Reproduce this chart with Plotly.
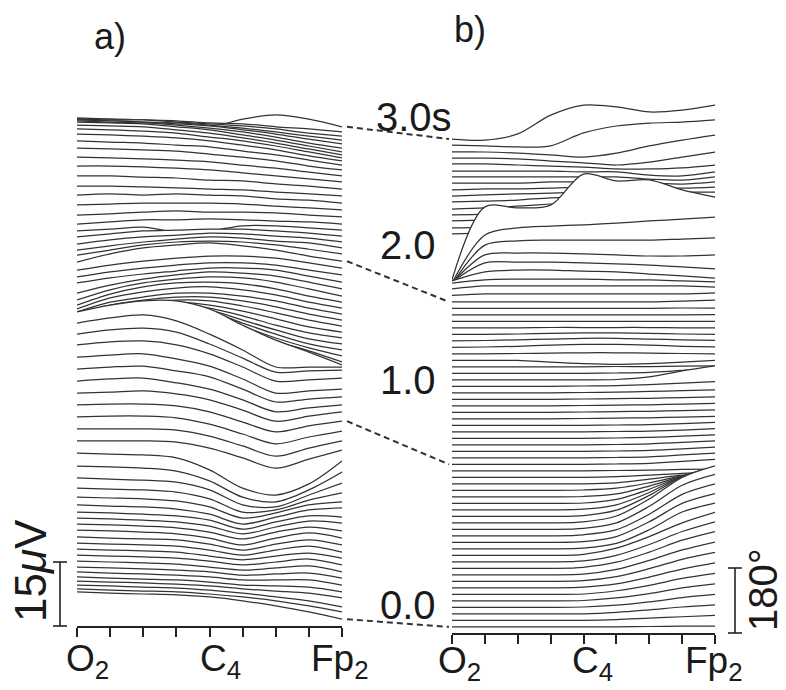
import plotly.graph_objects as go

# ---------------- data ----------------
electrode_pos = [0, 1, 2, 3, 4, 5, 6, 7, 8]
electrode_labels = {0: "O<sub>2</sub>", 4: "C<sub>4</sub>", 8: "Fp<sub>2</sub>"}

times = [0.00, 0.04, 0.08, 0.12, 0.16, 0.20, 0.24, 0.28, 0.32, 0.36, 0.40, 0.44, 0.48, 0.52,
         0.56, 0.60, 0.64, 0.68, 0.72, 0.76, 0.80, 0.84, 0.88, 0.92, 0.96, 1.00, 1.04, 1.08,
         1.12, 1.16, 1.20, 1.24, 1.28, 1.32, 1.36, 1.40, 1.44, 1.48, 1.52, 1.56, 1.60, 1.64,
         1.68, 1.72, 1.76, 1.80, 1.84, 1.88, 1.92, 1.96, 2.00, 2.04, 2.08, 2.12, 2.16, 2.20,
         2.24, 2.28, 2.32, 2.36, 2.40, 2.44, 2.48, 2.52, 2.56, 2.60, 2.64, 2.68, 2.72, 2.76,
         2.80, 2.84, 2.88, 2.92, 2.96, 3.00]

# a) amplitude (uV) at the 9 electrodes, one row per time step
amp_a = [
    [8.0, 7.7, 7.5, 7.3, 6.8, 5.9, 4.7, 3.3, 1.6],
    [7.2, 6.9, 6.7, 6.5, 6.0, 5.3, 4.4, 3.2, 1.8],
    [6.6, 6.4, 6.1, 5.9, 5.4, 4.7, 3.8, 2.9, 1.5],
    [6.0, 5.8, 5.6, 5.3, 4.9, 4.2, 3.7, 3.2, 2.1],
    [5.5, 5.2, 5.0, 4.8, 4.3, 3.6, 3.4, 3.1, 2.0],
    [5.2, 4.9, 4.7, 4.4, 4.0, 3.3, 3.3, 3.3, 2.1],
    [4.8, 4.6, 4.4, 4.1, 3.7, 2.9, 3.2, 3.4, 2.2],
    [4.7, 4.5, 4.3, 4.0, 3.3, 2.6, 3.1, 3.6, 2.2],
    [4.6, 4.4, 4.2, 3.9, 3.2, 2.3, 3.0, 3.7, 2.3],
    [4.5, 4.3, 4.1, 3.8, 2.9, 2.0, 2.9, 3.6, 2.4],
    [4.4, 4.2, 4.0, 3.7, 2.8, 1.6, 2.8, 3.7, 2.3],
    [4.4, 4.1, 3.9, 3.7, 2.7, 1.3, 2.7, 3.7, 2.5],
    [4.5, 4.3, 4.0, 3.6, 2.6, 1.0, 2.6, 3.8, 2.6],
    [4.4, 4.2, 3.9, 3.5, 2.5, 0.9, 2.5, 3.7, 2.8],
    [4.3, 4.1, 3.8, 3.4, 2.4, 0.6, 2.2, 3.6, 3.1],
    [4.2, 4.0, 3.7, 3.3, 2.3, 0.2, 1.9, 3.3, 3.0],
    [4.4, 4.1, 3.9, 3.4, 2.2, -0.1, 1.5, 3.2, 3.7],
    [4.7, 4.5, 4.3, 3.8, 2.4, -0.2, 1.0, 2.9, 3.6],
    [5.3, 5.1, 4.9, 4.4, 2.8, -0.3, 0.2, 2.5, 4.2],
    [6.2, 5.9, 5.7, 5.2, 3.4, -0.1, -0.6, 2.2, 5.0],
    [7.5, 7.3, 7.0, 6.3, 4.0, 0.2, -0.9, 1.9, 6.1],
    [9.0, 8.8, 8.6, 7.9, 5.1, 0.8, -0.8, 1.8, 7.2],
    [10.4, 10.4, 10.4, 10.1, 8.7, 6.4, 4.0, 6.1, 8.2],
    [11.7, 11.7, 11.7, 11.4, 10.0, 7.7, 5.3, 7.2, 8.9],
    [13.0, 13.2, 13.2, 12.8, 11.3, 9.0, 6.7, 8.3, 9.7],
    [14.3, 14.5, 14.5, 14.1, 12.7, 10.3, 8.0, 9.4, 10.5],
    [15.6, 15.8, 16.1, 15.4, 14.0, 11.6, 9.0, 10.2, 11.2],
    [16.9, 17.4, 17.6, 16.5, 15.0, 12.5, 9.7, 10.6, 11.3],
    [18.2, 18.7, 18.9, 17.8, 16.4, 13.5, 10.5, 11.2, 11.7],
    [19.5, 20.0, 20.3, 19.1, 17.4, 14.4, 11.1, 11.6, 12.0],
    [20.9, 21.6, 21.8, 20.9, 18.8, 15.7, 12.4, 12.7, 13.1],
    [21.9, 22.9, 23.3, 22.4, 19.6, 16.3, 13.0, 13.3, 13.5],
    [23.0, 24.2, 24.9, 23.5, 20.4, 16.7, 12.7, 12.7, 12.7],
    [24.1, 25.7, 26.7, 26.7, 24.8, 21.0, 17.5, 14.7, 11.7],
    [21.7, 23.3, 24.2, 24.2, 22.4, 18.8, 15.8, 13.5, 10.9],
    [20.2, 21.8, 22.7, 22.7, 21.1, 17.8, 15.0, 12.7, 10.8],
    [18.7, 20.3, 21.2, 21.2, 19.8, 17.0, 14.4, 12.1, 10.7],
    [17.2, 18.8, 19.7, 20.0, 18.6, 16.2, 13.9, 11.8, 10.6],
    [15.7, 17.3, 18.5, 18.7, 17.5, 15.7, 13.5, 11.7, 10.5],
    [14.4, 16.0, 17.0, 17.4, 16.7, 15.3, 13.5, 11.6, 10.4],
    [12.9, 14.8, 15.7, 16.4, 16.2, 15.0, 13.4, 11.7, 10.3],
    [11.6, 13.7, 14.9, 15.6, 15.6, 14.7, 13.3, 11.6, 10.2],
    [10.6, 12.9, 14.1, 15.0, 15.0, 14.3, 13.2, 11.5, 10.1],
    [9.8, 12.4, 13.8, 14.7, 15.0, 14.3, 13.1, 11.4, 10.0],
    [9.2, 11.8, 13.5, 14.4, 14.6, 14.2, 13.0, 11.3, 9.9],
    [8.9, 11.3, 12.9, 13.8, 14.3, 14.1, 13.1, 11.5, 9.8],
    [9.0, 10.9, 12.3, 13.3, 14.0, 13.7, 13.0, 11.6, 10.0],
    [9.9, 11.1, 12.0, 12.7, 13.4, 13.4, 12.9, 11.5, 10.1],
    [9.8, 11.0, 11.9, 12.6, 13.1, 13.1, 12.6, 11.4, 10.3],
    [9.9, 11.1, 12.0, 12.7, 13.2, 13.2, 12.7, 11.6, 10.4],
    [10.3, 12.2, 13.6, 14.3, 14.8, 14.1, 13.1, 11.7, 10.5],
    [10.4, 11.6, 12.8, 13.5, 13.7, 13.5, 12.8, 11.8, 10.7],
    [10.1, 11.1, 12.0, 12.7, 13.2, 12.9, 12.2, 11.8, 10.6],
    [10.0, 11.0, 11.7, 12.1, 12.6, 12.4, 11.9, 11.4, 10.5],
    [10.2, 10.9, 11.6, 11.8, 12.0, 12.0, 11.6, 11.1, 10.4],
    [10.1, 10.5, 11.0, 9.8, 10.1, 11.3, 11.3, 10.8, 10.3],
    [10.2, 10.7, 11.2, 11.2, 11.4, 11.2, 10.9, 10.7, 10.2],
    [10.8, 11.1, 11.5, 11.8, 11.5, 11.5, 11.3, 10.8, 10.4],
    [11.7, 11.9, 12.1, 12.1, 12.1, 11.9, 11.4, 11.0, 10.5],
    [12.5, 12.8, 12.5, 12.8, 12.5, 12.3, 11.6, 11.3, 10.6],
    [13.1, 13.1, 12.9, 12.7, 12.4, 12.2, 11.7, 11.3, 10.8],
    [14.0, 14.0, 13.7, 13.5, 13.0, 12.8, 12.1, 11.6, 10.9],
    [14.8, 14.8, 14.6, 14.3, 13.9, 13.2, 12.5, 11.8, 11.1],
    [15.4, 15.2, 15.0, 14.7, 14.3, 13.5, 12.8, 11.9, 11.0],
    [16.0, 15.8, 15.6, 15.3, 14.6, 13.9, 13.0, 11.8, 10.9],
    [16.2, 15.9, 15.7, 15.2, 14.8, 13.8, 12.9, 11.7, 10.5],
    [16.3, 16.1, 15.8, 15.4, 14.7, 13.7, 12.6, 11.2, 10.0],
    [16.0, 15.8, 15.5, 15.0, 14.1, 13.2, 12.0, 10.6, 9.2],
    [15.4, 15.2, 15.0, 14.3, 13.5, 12.4, 11.2, 9.8, 8.4],
    [14.6, 14.4, 14.2, 13.5, 12.8, 11.6, 10.4, 9.0, 7.6],
    [13.4, 13.1, 12.9, 12.4, 11.7, 10.8, 9.6, 8.2, 7.0],
    [12.1, 11.9, 11.6, 11.2, 10.7, 9.8, 8.8, 7.6, 6.5],
    [10.6, 10.4, 10.1, 9.9, 9.4, 8.7, 7.8, 6.8, 5.9],
    [9.3, 9.1, 9.1, 8.6, 8.2, 7.7, 7.0, 6.0, 5.3],
    [7.8, 7.8, 7.6, 7.4, 6.9, 6.7, 6.0, 5.5, 4.8],
    [6.6, 6.3, 6.1, 5.4, 4.5, 6.3, 7.3, 6.3, 4.5],
]

# b) phase (degrees) at the 9 electrodes, one row per time step
phase_b = [
    [17, 17, 17, 17, 17, 17, 18, 19, 19],
    [17, 17, 17, 17, 17, 19, 23, 27, 31],
    [17, 17, 17, 17, 17, 21, 28, 36, 42],
    [17, 17, 17, 17, 18, 23, 32, 44, 53],
    [17, 17, 17, 17, 18, 25, 37, 53, 64],
    [17, 17, 17, 17, 18, 27, 42, 61, 75],
    [17, 17, 17, 17, 19, 28, 47, 69, 86],
    [17, 17, 17, 17, 19, 30, 52, 78, 97],
    [17, 17, 17, 17, 19, 32, 57, 86, 108],
    [17, 17, 17, 17, 20, 34, 62, 95, 119],
    [17, 17, 17, 17, 20, 35, 65, 101, 128],
    [17, 17, 17, 17, 20, 37, 69, 107, 136],
    [17, 17, 17, 17, 19, 32, 70, 119, 144],
    [17, 17, 17, 17, 19, 33, 74, 125, 152],
    [17, 17, 17, 17, 20, 34, 77, 132, 161],
    [17, 17, 17, 17, 20, 35, 81, 139, 169],
    [17, 17, 17, 17, 20, 36, 83, 143, 175],
    [17, 17, 17, 17, 19, 34, 75, 127, 155],
    [17, 17, 17, 17, 19, 31, 65, 110, 133],
    [17, 17, 17, 17, 18, 28, 56, 92, 111],
    [17, 17, 17, 17, 18, 25, 47, 74, 89],
    [17, 17, 17, 17, 18, 23, 38, 57, 67],
    [17, 17, 17, 17, 17, 20, 30, 41, 47],
    [17, 17, 17, 17, 17, 19, 23, 28, 31],
    [17, 17, 17, 17, 17, 18, 19, 21, 22],
    [17, 17, 17, 17, 17, 18, 20, 25, 31],
    [17, 17, 17, 17, 17, 18, 20, 25, 30],
    [17, 17, 17, 17, 17, 18, 20, 24, 29],
    [17, 17, 17, 17, 17, 18, 20, 24, 28],
    [17, 17, 17, 17, 17, 18, 20, 23, 27],
    [17, 17, 17, 17, 17, 18, 19, 22, 26],
    [17, 17, 17, 17, 17, 18, 19, 22, 25],
    [17, 17, 17, 17, 18, 19, 20, 22, 24],
    [17, 17, 17, 17, 18, 19, 20, 22, 24],
    [17, 17, 17, 17, 18, 19, 20, 22, 24],
    [17, 17, 17, 17, 18, 19, 20, 22, 24],
    [17, 17, 17, 17, 18, 19, 21, 23, 25],
    [17, 17, 17, 17, 18, 19, 22, 26, 30],
    [17, 17, 17, 17, 17, 18, 25, 42, 56],
    [17, 17, 17, 17, 17, 18, 20, 25, 30],
    [17, 17, 17, 17, 17, 18, 18, 19, 20],
    [17, 17, 17, 12, 8, 6, 8, 12, 17],
    [17, 17, 18, 19, 20, 20, 19, 18, 17],
    [17, 18, 20, 23, 25, 25, 23, 20, 18],
    [17, 18, 20, 22, 24, 24, 22, 20, 18],
    [17, 17, 18, 20, 21, 21, 20, 18, 17],
    [17, 17, 17, 18, 18, 18, 18, 17, 17],
    [17, 17, 17, 17, 17, 17, 17, 17, 17],
    [17, 17, 17, 17, 17, 17, 17, 17, 18],
    [17, 17, 17, 17, 17, 17, 17, 18, 18],
    [17, 17, 17, 17, 17, 17, 17, 19, 22],
    [17, 21, 21, 21, 21, 21, 21, 21, 24],
    [17, 25, 25, 25, 25, 25, 25, 25, 22],
    [15, 24, 26, 26, 26, 24, 24, 21, 18],
    [3, 28, 33, 33, 30, 28, 22, 17, 11],
    [-18, 35, 37, 37, 35, 32, 29, 24, 18],
    [-39, 39, 44, 44, 42, 39, 36, 36, 39],
    [-60, 48, 60, 62, 62, 62, 62, 65, 68],
    [-75, 58, 78, 83, 86, 91, 97, 102, 108],
    [-84, 118, 115, 123, 209, 190, 193, 165, 145],
    [25, 28, 36, 53, 69, 83, 91, 91, 91],
    [24, 26, 35, 48, 62, 73, 79, 79, 79],
    [25, 28, 33, 44, 55, 64, 66, 66, 66],
    [24, 26, 32, 40, 48, 54, 54, 54, 54],
    [22, 25, 30, 36, 42, 47, 47, 44, 44],
    [24, 26, 29, 35, 37, 40, 40, 37, 37],
    [22, 25, 28, 30, 33, 36, 36, 33, 33],
    [21, 24, 24, 26, 29, 29, 29, 26, 29],
    [22, 22, 22, 25, 25, 25, 22, 19, 25],
    [21, 21, 21, 21, 21, 21, 15, 12, 21],
    [19, 19, 19, 19, 17, 17, 8, 6, 17],
    [21, 21, 18, 15, 12, 7, 7, 10, 18],
    [19, 19, 17, 11, 6, 0, 8, 22, 36],
    [18, 18, 15, 10, 4, 15, 35, 51, 65],
    [19, 17, 14, 17, 53, 72, 80, 83, 89],
    [18, 15, 32, 84, 112, 107, 93, 98, 112],
]

marked_times = [0.0, 1.0, 2.0, 3.0]
marked_labels = ["0.0", "1.0", "2.0", "3.0s"]
scale_a_uv = 15
scale_b_deg = 180

# ---------------- layout constants ----------------
W, H = 786, 690
OFFSET_A = 37.5      # uV of vertical shift per second
OFFSET_B = 450.0     # degrees of vertical shift per second
PX_PER_UV = 64 / 15
PX_PER_DEG = 65 / 180
XA = (77 / W, 342 / W)
XB = (452 / W, 715 / W)
YA = (1 - 626 / H, 1 - 95 / H)
YB = (1 - 633 / H, 1 - 95 / H)
YA_RANGE = (0, (626 - 95) / PX_PER_UV)
YB_RANGE = (0, (633 - 95) / PX_PER_DEG)
LINE_COL = "#333333"
FONT = "Liberation Sans, Arial, sans-serif"
TXT_COL = "#1a1a1a"


def to_paper(v, dom, rng):
    return dom[0] + (v - rng[0]) / (rng[1] - rng[0]) * (dom[1] - dom[0])


fig = go.Figure()
n = len(times)
# back (late) traces first, front (early) traces last -> hidden-line effect
for i in range(n - 1, -1, -1):
    ya = [times[i] * OFFSET_A + v for v in amp_a[i]]
    fig.add_trace(go.Scatter(
        x=electrode_pos, y=ya, mode="lines", xaxis="x", yaxis="y",
        line=dict(color=LINE_COL, width=1.25, shape="spline", smoothing=0.9),
        fill="tozeroy", fillcolor="white", hoverinfo="skip", showlegend=False))
for i in range(n - 1, -1, -1):
    yb = [times[i] * OFFSET_B + v for v in phase_b[i]]
    fig.add_trace(go.Scatter(
        x=electrode_pos, y=yb, mode="lines", xaxis="x2", yaxis="y2",
        line=dict(color=LINE_COL, width=1.25, shape="spline", smoothing=0.9),
        fill="tozeroy", fillcolor="white", hoverinfo="skip", showlegend=False))

axis_common = dict(range=[0, 8], showline=True, linecolor="#222", linewidth=1.6,
                   ticks="outside", ticklen=9, tickwidth=1.6, tickcolor="#222",
                   tickvals=electrode_pos, showticklabels=False, showgrid=False,
                   zeroline=False, fixedrange=True)
fig.update_layout(
    width=W, height=H, margin=dict(l=0, r=0, t=0, b=0),
    paper_bgcolor="white", plot_bgcolor="white",
    xaxis=dict(domain=list(XA), anchor="y", **axis_common),
    xaxis2=dict(domain=list(XB), anchor="y2", **axis_common),
    yaxis=dict(domain=list(YA), range=list(YA_RANGE), visible=False, anchor="x", fixedrange=True),
    yaxis2=dict(domain=list(YB), range=list(YB_RANGE), visible=False, anchor="x2", fixedrange=True),
    showlegend=False,
)

shapes = []
annotations = []

# dashed connectors between panels
for t, lab in zip(marked_times, marked_labels):
    i = times.index(t)
    ya_end = times[i] * OFFSET_A + amp_a[i][-1]
    yb_start = times[i] * OFFSET_B + phase_b[i][0]
    shapes.append(dict(
        type="line", xref="paper", yref="paper",
        x0=XA[1] + 5 / W, y0=to_paper(ya_end, YA, YA_RANGE),
        x1=XB[0] - 3 / W, y1=to_paper(yb_start, YB, YB_RANGE),
        line=dict(color="#333", width=2, dash="6px,4px")))

label_pos = {"3.0s": (414, 117), "2.0": (408, 245), "1.0": (408, 380), "0.0": (408, 605)}
for lab in marked_labels:
    px, py = label_pos[lab]
    annotations.append(dict(text=lab, xref="paper", yref="paper", x=px / W, y=1 - py / H,
                            showarrow=False, xanchor="center", yanchor="middle",
                            font=dict(family=FONT, size=40, color=TXT_COL)))

# scale bars
bar_line = dict(color="#222", width=1.6)
xa_bar = 60 / W
ya0, ya1 = to_paper(0, YA, YA_RANGE), to_paper(scale_a_uv, YA, YA_RANGE)
xb_bar = 735 / W
yb0, yb1 = to_paper(0, YB, YB_RANGE), to_paper(scale_b_deg, YB, YB_RANGE)
for xb, y0, y1 in [(xa_bar, ya0, ya1), (xb_bar, yb0, yb1)]:
    shapes.append(dict(type="line", xref="paper", yref="paper", x0=xb, x1=xb, y0=y0, y1=y1, line=bar_line))
    for yy in (y0, y1):
        shapes.append(dict(type="line", xref="paper", yref="paper", x0=xb - 7 / W, x1=xb + 7 / W,
                           y0=yy, y1=yy, line=bar_line))

annotations.append(dict(text="15<i>μ</i>V", xref="paper", yref="paper", x=30 / W, y=1 - 571 / H,
                        showarrow=False, textangle=-90, xanchor="center", yanchor="middle",
                        font=dict(family=FONT, size=44, color=TXT_COL)))
annotations.append(dict(text="180°", xref="paper", yref="paper", x=763 / W, y=1 - 590 / H,
                        showarrow=False, textangle=-90, xanchor="center", yanchor="middle",
                        font=dict(family=FONT, size=40, color=TXT_COL)))

# electrode labels
shift_a = {0: 10, 4: 11, 8: -2}
shift_b = {0: 7, 4: 9, 8: -1}
for pos, txt in electrode_labels.items():
    annotations.append(dict(text=txt, xref="x", yref="paper", x=pos, y=1 - 661 / H, xshift=shift_a[pos],
                            showarrow=False, xanchor="center", yanchor="middle",
                            font=dict(family=FONT, size=37, color=TXT_COL)))
    annotations.append(dict(text=txt, xref="x2", yref="paper", x=pos, y=1 - 663 / H, xshift=shift_b[pos],
                            showarrow=False, xanchor="center", yanchor="middle",
                            font=dict(family=FONT, size=37, color=TXT_COL)))

# panel letters
annotations.append(dict(text="a)", xref="paper", yref="paper", x=110 / W, y=1 - 36 / H, showarrow=False,
                        xanchor="center", yanchor="middle", font=dict(family=FONT, size=36, color=TXT_COL)))
annotations.append(dict(text="b)", xref="paper", yref="paper", x=470 / W, y=1 - 30 / H, showarrow=False,
                        xanchor="center", yanchor="middle", font=dict(family=FONT, size=36, color=TXT_COL)))

fig.update_layout(shapes=shapes, annotations=annotations)
fig.write_html("out.html", config={"displayModeBar": False},
               post_script="document.body.style.margin='0';document.body.style.padding='0';")
